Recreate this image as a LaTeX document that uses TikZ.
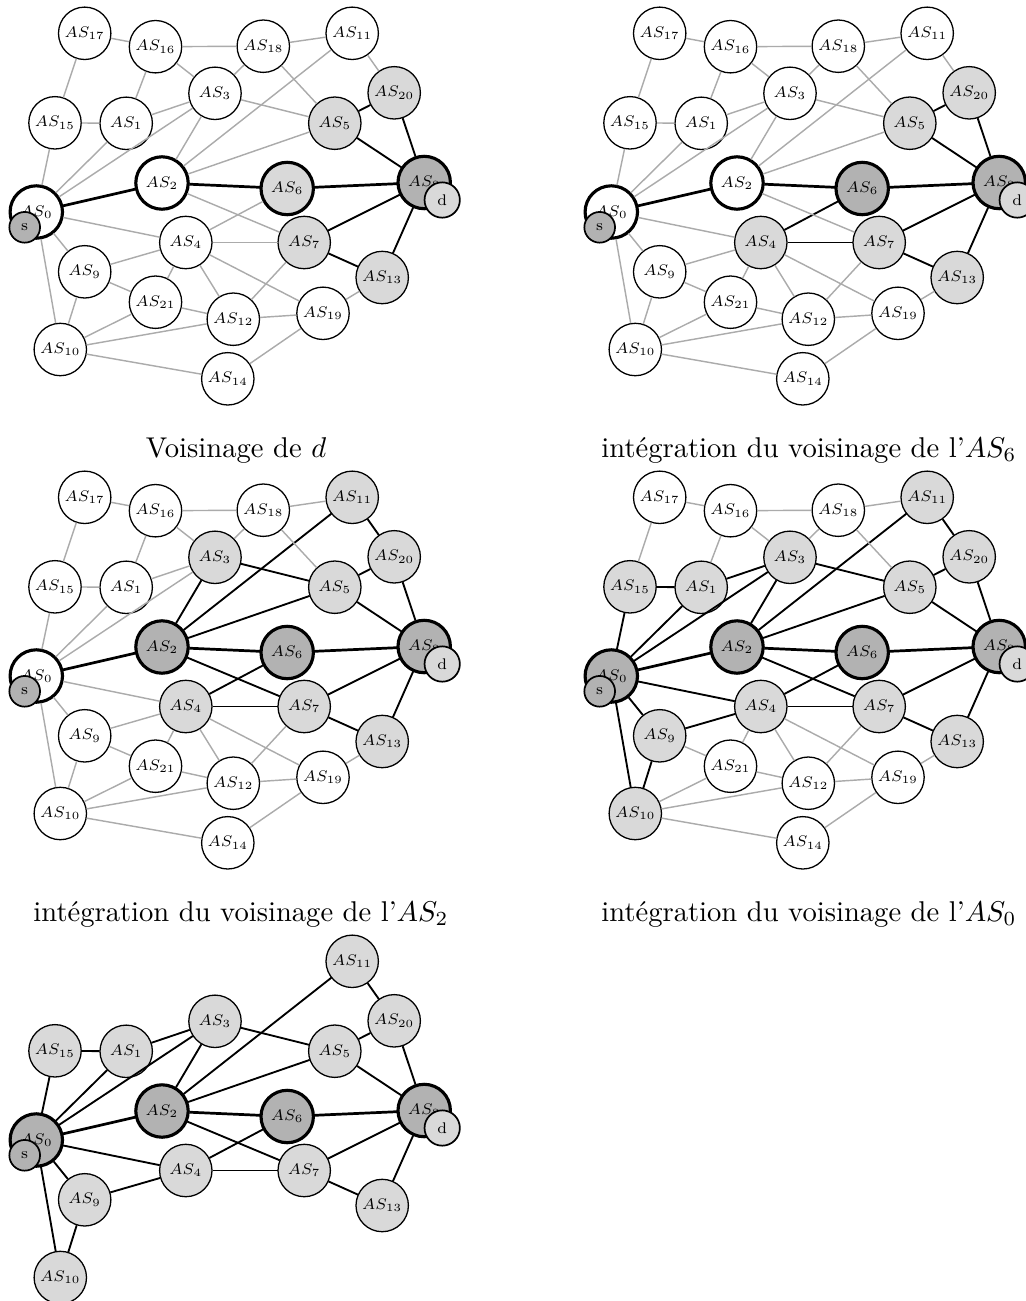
\documentclass[tikz,border=0pt]{standalone}
\usepackage{tikz}

\tikzset{
  as/.style={circle, draw, line width=0.45pt, fill=white, minimum size=23.8pt,
             inner sep=0pt, font=\scriptsize, scale=0.77},
  cle/.style={as, line width=1.1pt},
  visite/.style={fill=black!15},
  integre/.style={fill=black!30},
  extremite/.style={circle, draw, line width=0.6pt, font=\scriptsize, scale=0.77},
  lien/.style={draw=black!33, line width=0.5pt},
  actif/.style={draw=black, line width=0.65pt},
  route/.style={draw=black, line width=0.95pt},
  e0-2/.style=route, e2-6/.style=route, e6-8/.style=route,
  titre/.style={anchor=base, font=\normalsize},
  % ce qui est connu apres chaque etape
  etape1/.style={as8/.style=integre, as6/.style=visite, as5/.style=visite,
    as20/.style=visite, as7/.style=visite, as13/.style=visite,
    e5-20/.style=actif, e5-8/.style=actif, e20-8/.style=actif,
    e7-8/.style=actif, e7-13/.style=actif, e13-8/.style=actif},
  etape2/.style={etape1, as6/.style=integre, as4/.style=visite,
    e6-4/.style=actif, e4-7/.style=actif},
  etape3/.style={etape2, as2/.style=integre, as3/.style=visite, as11/.style=visite,
    e2-3/.style=actif, e2-11/.style=actif, e2-5/.style=actif, e2-7/.style=actif,
    e3-5/.style=actif, e11-20/.style=actif},
  etape4/.style={etape3, as0/.style=integre, as15/.style=visite, as1/.style=visite,
    as9/.style=visite, as10/.style=visite,
    e0-15/.style=actif, e0-1/.style=actif, e0-3/.style=actif, e0-4/.style=actif,
    e0-9/.style=actif, e0-10/.style=actif, e15-1/.style=actif, e1-3/.style=actif,
    e9-4/.style=actif, e9-10/.style=actif},
}

% AS qui restent dans le graphe final / les autres
\newcommand{\ASfin}{0/3.63/21.20/cle, 1/12.62/12.33/as, 2/16.20/18.30/cle,
  3/21.50/9.33/as, 4/18.58/24.25/as, 5/33.48/12.32/as, 6/28.72/18.85/cle,
  7/30.42/24.25/as, 8/42.42/18.25/cle, 9/8.47/27.18/as, 10/6.03/34.95/as,
  11/35.22/3.33/as, 13/38.22/27.75/as, 15/5.50/12.28/as, 20/39.42/9.28/as}
\newcommand{\ASreste}{12/23.33/31.92/as, 14/22.78/37.88/as, 16/15.55/4.67/as,
  17/8.47/3.33/as, 18/26.33/4.62/as, 19/32.30/31.33/as, 21/15.55/30.22/as}
\newcommand{\liensfin}{0/2, 2/6, 6/8, 5/20, 5/8, 20/8, 7/8, 7/13, 13/8, 6/4, 4/7,
  2/3, 2/11, 2/5, 2/7, 3/5, 11/20, 0/15, 0/1, 0/3, 0/4, 0/9, 0/10, 15/1, 1/3,
  9/4, 9/10}
\newcommand{\liensreste}{17/16, 17/15, 16/18, 16/1, 16/3, 18/11, 18/3, 18/5,
  4/21, 4/12, 4/19, 7/12, 9/21, 21/10, 21/12, 12/10, 12/19, 19/13, 19/14, 10/14}

\newcommand{\noeuds}[2]{%
  \foreach \n/\x/\y/\s in #2
    \node[\s, as\n/.try] (#1\n) at (\x,\y) {$AS_{\n}$};}
\newcommand{\extremites}[1]{%
  \node[extremite, fill=black!30] (#1s) at ([shift={(-1.16,1.53)}]#10) {s};
  \node[extremite, fill=black!15] (#1d) at ([shift={(1.80,1.75)}]#18) {d};}
\newcommand{\liens}[2]{%
  \foreach \a/\b in #2
    \draw[lien, e\a-\b/.try] (#1\a) -- (#1\b);}

\begin{document}
\begin{tikzpicture}[x=0.1229cm, y=-0.1229cm]
  \useasboundingbox (0,0) rectangle (102.6,130.1);

  \begin{scope}[etape1]
    \noeuds{A}{\ASfin} \noeuds{A}{\ASreste}
    \extremites{A}
    \liens{A}{\liensfin} \liens{A}{\liensreste}
    \node[titre] (titreA) at (23.6,45.7) {Voisinage de $d$};
  \end{scope}

  \begin{scope}[shift={(57.5,0)}, etape2]
    \noeuds{B}{\ASfin} \noeuds{B}{\ASreste}
    \extremites{B}
    \liens{B}{\liensfin} \liens{B}{\liensreste}
    \node[titre] (titreB) at (23.4,45.7) {intégration du voisinage de l'$AS_6$};
  \end{scope}

  \begin{scope}[shift={(0,46.4)}, etape3]
    \noeuds{C}{\ASfin} \noeuds{C}{\ASreste}
    \extremites{C}
    \liens{C}{\liensfin} \liens{C}{\liensreste}
    \node[titre] (titreC) at (24.1,45.7) {intégration du voisinage de l'$AS_2$};
  \end{scope}

  \begin{scope}[shift={(57.5,46.4)}, etape4]
    \noeuds{D}{\ASfin} \noeuds{D}{\ASreste}
    \extremites{D}
    \liens{D}{\liensfin} \liens{D}{\liensreste}
    \node[titre] (titreD) at (23.4,45.7) {intégration du voisinage de l'$AS_0$};
  \end{scope}

  % graphe obtenu
  \begin{scope}[shift={(0,92.8)}, etape4]
    \noeuds{E}{\ASfin}
    \extremites{E}
    \liens{E}{\liensfin}
  \end{scope}
\end{tikzpicture}
\end{document}
